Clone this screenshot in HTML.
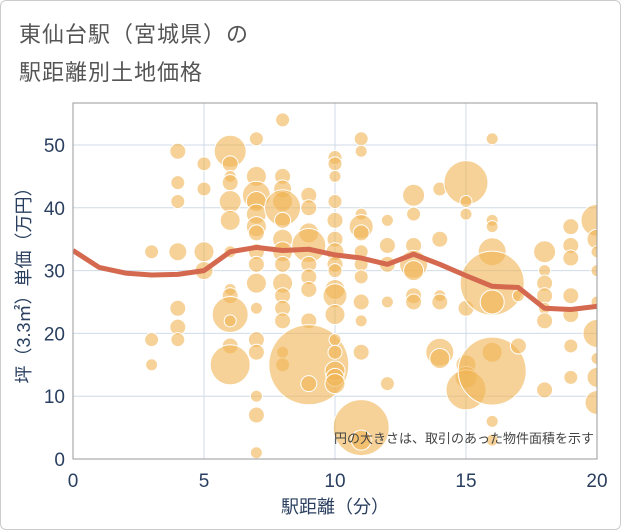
<!DOCTYPE html>
<html><head><meta charset="utf-8"><style>
body{margin:0;background:#fff;}
#wrap{position:relative;width:619px;height:528px;border:1px solid #ccc;border-radius:6px;overflow:hidden;font-family:"Liberation Sans","Noto Sans CJK JP",sans-serif;}
.title{position:absolute;left:18px;color:#555;font-size:22px;letter-spacing:1px;}
</style></head><body>
<div id="wrap">
<div class="title" style="top:16px">東仙台駅（宮城県）の</div>
<div class="title" style="top:54px">駅距離別土地価格</div>
<svg id="chart" width="621" height="530" style="position:absolute;left:-1px;top:-1px"></svg>
</div>
<script>
const xTicks=[0,5,10,15,20];
const yTicks=[0,10,20,30,40,50];
const bubbleX=[3,3,3,4,4,4,4,4,4,4,5,5,5,5,6,6,6,6,6,6,6,6,6,6,6,6,6,7,7,7,7,7,7,7,7,7,7,7,7,7,7,7,7,8,8,8,8,8,8,8,8,8,8,8,8,8,8,8,9,9,9,9,9,9,9,9,9,9,10,10,10,10,10,10,10,10,10,10,10,10,10,10,10,10,10,11,11,11,11,11,11,11,11,11,11,11,11,11,12,12,12,12,12,13,13,13,13,13,13,13,14,14,14,14,14,14,15,15,15,15,15,15,15,16,16,16,16,16,16,16,16,16,16,17,17,18,18,18,18,18,18,18,19,19,19,19,19,19,19,20,20,20,20,20,20,20,20,20];
const bubbleY=[33,19,15,49,44,41,33,24,21,19,47,43,33,30,49,47,45,44,41,38,33,27,26,23,22,18,15,51,45,42,41,39,37,36,33,31,28,24,19,17,10,7,1,54,45,43,41,40,38,35,33,31,28,26,24,22,17,15,42,40,36,34,31,29,27,22,15,12,48,47,45,41,38,35,33,31,30,27,26,23,19,17,14,13,12,51,49,39,37,36,33,31,29,25,22,17,5,3,38,34,31,25,12,42,39,34,31,30,26,25,43,35,26,25,17,16,44,41,39,24,15,13,11,51,38,37,33,28,25,17,14,6,3,26,18,33,30,28,26,24,22,11,37,34,32,26,23,18,13,38,35,33,30,25,20,16,13,9];
const bubbleR=[7,7,6,8,7,7,9,8,8,7,7,7,10,9,16,8,6,8,11,10,6,6,8,18,6,8,20,7,10,14,10,10,10,8,8,8,10,6,8,8,6,8,6,7,8,9,10,18,8,10,10,8,10,8,8,8,6,7,8,8,10,17,8,8,8,8,40,8,7,7,6,7,8,8,9,8,7,10,12,10,6,7,10,9,10,7,6,6,12,8,7,7,7,8,6,8,28,10,6,8,8,6,7,11,7,8,14,10,8,8,7,8,6,8,14,10,22,6,6,8,10,11,20,6,6,6,14,32,12,10,34,6,6,6,8,11,6,8,8,6,8,8,8,8,8,8,8,7,7,16,10,6,6,6,14,6,10,12];
const lineX=[0,1,2,3,4,5,6,7,8,9,10,11,12,13,14,15,16,17,18,19,20];
const lineY=[33.2,30.5,29.6,29.3,29.4,30,33,33.7,33.2,33.4,32.5,32,31,32.6,31,29.2,27.5,27.3,24,23.8,24.3];
const L=73,R=597,T=103,B=459;
const sx=v=>L+(v/20)*(R-L);
const sy=v=>B-v*6.28;
const svg=document.getElementById('chart');
const NS='http://www.w3.org/2000/svg';
function mk(t,a,p){const e=document.createElementNS(NS,t);for(const k in a)e.setAttribute(k,a[k]);(p||svg).appendChild(e);return e;}
const defs=mk('defs',{});const cp=mk('clipPath',{id:'pc'},defs);mk('rect',{x:L,y:T,width:R-L,height:B-T},cp);
const grid=mk('g',{});


xTicks.forEach(v=>{const l=mk('line',{x1:sx(v),x2:sx(v),y1:T,y2:B,stroke:'#cfdbe7','stroke-width':1},grid);
const t=mk('text',{x:sx(v),y:B+28,'text-anchor':'middle','font-size':19,fill:'#2a3f5f','font-family':'Liberation Sans, sans-serif'});t.textContent=v;});
yTicks.forEach(v=>{const l=mk('line',{x1:L,x2:R,y1:sy(v),y2:sy(v),stroke:'#cfdbe7','stroke-width':1},grid);
const t=mk('text',{x:L-8,y:sy(v)+7,'text-anchor':'end','font-size':19,fill:'#2a3f5f','font-family':'Liberation Sans, sans-serif'});t.textContent=v;});
const bg=mk('g',{'clip-path':'url(#pc)'});


bubbleX.forEach((x,i)=>{const c=mk('circle',{cx:sx(x),cy:sy(bubbleY[i]),r:bubbleR[i],fill:'#f0b454','fill-opacity':0.6,stroke:'#fff','stroke-width':1},bg);

});
const pl=mk('polyline',{points:lineX.map((x,i)=>sx(x)+','+sy(lineY[i])).join(' '),fill:'none',stroke:'#d4694f','stroke-width':5,'stroke-linejoin':'round','clip-path':'url(#pc)'});


const fr=mk('rect',{x:L,y:T,width:R-L,height:B-T,fill:'none',stroke:'#999','stroke-width':1});


const note=mk('text',{x:R-3,y:443,'text-anchor':'end','font-size':13,fill:'#444','font-family':'Liberation Sans, Noto Sans CJK JP, sans-serif'});note.textContent='円の大きさは、取引のあった物件面積を示す';


const xt=mk('text',{x:(L+R)/2,y:513,'text-anchor':'middle','font-size':18,fill:'#2a3f5f','font-family':'Liberation Sans, Noto Sans CJK JP, sans-serif'});xt.textContent='駅距離（分）';


const yt=mk('text',{x:0,y:0,'text-anchor':'middle','font-size':18,fill:'#2a3f5f','font-family':'Liberation Sans, Noto Sans CJK JP, sans-serif',transform:'translate(30,'+((T+B)/2)+') rotate(-90)'});yt.textContent='坪（3.3㎡）単価（万円）';


</script>
</body></html>
